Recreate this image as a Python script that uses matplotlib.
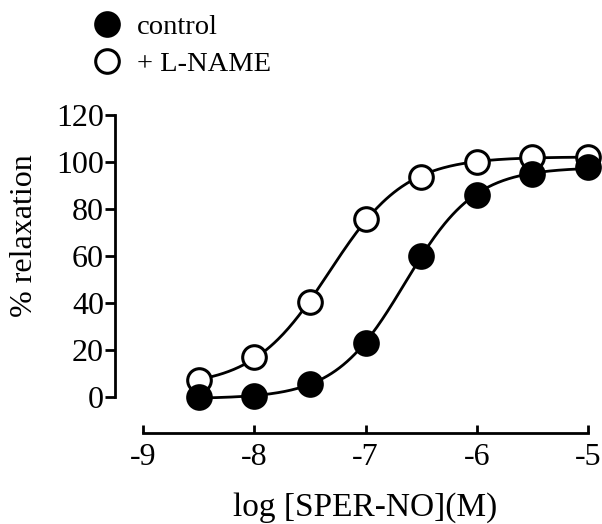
import numpy as np
import matplotlib
matplotlib.use("Agg")
import matplotlib.pyplot as plt
from matplotlib.lines import Line2D

plt.rcParams['font.family'] = ['Liberation Serif', 'DejaVu Serif']

# ---- data ----
log_conc = [-8.5, -8.0, -7.5, -7.0, -6.5, -6.0, -5.5, -5.0]
control = [0.0, 0.3, 5.5, 23.0, 60.0, 86.0, 95.0, 97.7]
lname = [7.2, 17.0, 40.3, 75.7, 93.5, 99.9, 102.0, 102.3]
x_ticks = [-9, -8, -7, -6, -5]
y_ticks = [0, 20, 40, 60, 80, 100, 120]
labels = ['control', '+ L-NAME']


def fit_sigmoid(x, y):
    """Least-squares 4-parameter logistic fit (grid over EC50 / slope)."""
    x = np.asarray(x, float)
    y = np.asarray(y, float)
    ec = np.arange(-8.5, -5.5, 0.005)
    hs = np.arange(0.4, 2.5, 0.01)
    best = None
    for e in ec:
        s = 1.0 / (1.0 + 10 ** ((e - x)[None, :] * hs[:, None]))
        sm = s.mean(axis=1, keepdims=True)
        ym = y.mean()
        ds = s - sm
        a = (ds * (y - ym)).sum(axis=1) / (ds ** 2).sum(axis=1)
        b = ym - a * sm[:, 0]
        res = ((b[:, None] + a[:, None] * s - y) ** 2).sum(axis=1)
        i = np.argmin(res)
        if best is None or res[i] < best[0]:
            best = (res[i], b[i], a[i], e, hs[i])
    _, b, a, e, h = best
    return lambda xx: b + a / (1.0 + 10 ** ((e - xx) * h))


fig = plt.figure(figsize=(6.02, 5.24), dpi=100)
ax = fig.add_axes([115 / 602, 1 - 444 / 524, 473 / 602, 329 / 524])

xs = np.linspace(-8.5, -5.0, 300)
f_c = fit_sigmoid(log_conc, control)
f_l = fit_sigmoid(log_conc, lname)

lw = 2.0
ax.plot(xs, f_l(xs), color='black', lw=lw, clip_on=False, zorder=2)
ax.plot(xs, f_c(xs), color='black', lw=lw, clip_on=False, zorder=2)
ms = 17
ax.plot(log_conc, lname, 'o', ms=ms, mfc='white', mec='black', mew=2.2,
        ls='none', clip_on=False, zorder=3)
ax.plot(log_conc, control, 'o', ms=ms, mfc='black', mec='black', mew=2.2,
        ls='none', clip_on=False, zorder=4)

ax.set_xlim(-9.252, -5)
ax.set_ylim(-20, 120)

for s in ['top', 'right']:
    ax.spines[s].set_visible(False)
ax.spines['left'].set_bounds(0, 120)
ax.spines['left'].set_linewidth(2.0)
ax.spines['bottom'].set_bounds(-9, -5)
ax.spines['bottom'].set_position(('data', -15.3))
ax.spines['bottom'].set_linewidth(2.0)

ax.set_xticks(x_ticks)
ax.set_xticklabels([str(t) for t in x_ticks])
ax.set_yticks(y_ticks)
ax.set_yticklabels([str(t) for t in y_ticks])
ax.tick_params(axis='y', direction='out', length=7, width=2.0, labelsize=23, pad=1)
ax.tick_params(axis='x', direction='in', length=6, width=2.0, labelsize=23, pad=7)

ax.set_xlabel('log [SPER-NO](M)', fontsize=24)
ax.xaxis.label.set_va('center')
ax.xaxis.set_label_coords((365 - 115) / 473, (444 - 508) / 329)
ax.set_ylabel('% relaxation', fontsize=23)
ax.yaxis.set_label_coords((39 - 115) / 473, (444 - 236) / 329)

handles = [
    Line2D([], [], marker='o', ls='none', ms=ms, mfc='black', mec='black', mew=2.2),
    Line2D([], [], marker='o', ls='none', ms=ms, mfc='white', mec='black', mew=2.2),
]
fig.legend(handles, labels, loc='upper left', bbox_to_anchor=(96 / 602, 1 - 14 / 524),
           frameon=False, fontsize=20.5, borderpad=0, borderaxespad=0,
           handlelength=0.8, handletextpad=0.65, labelspacing=0.4)

fig.savefig('out.png', dpi=100)
